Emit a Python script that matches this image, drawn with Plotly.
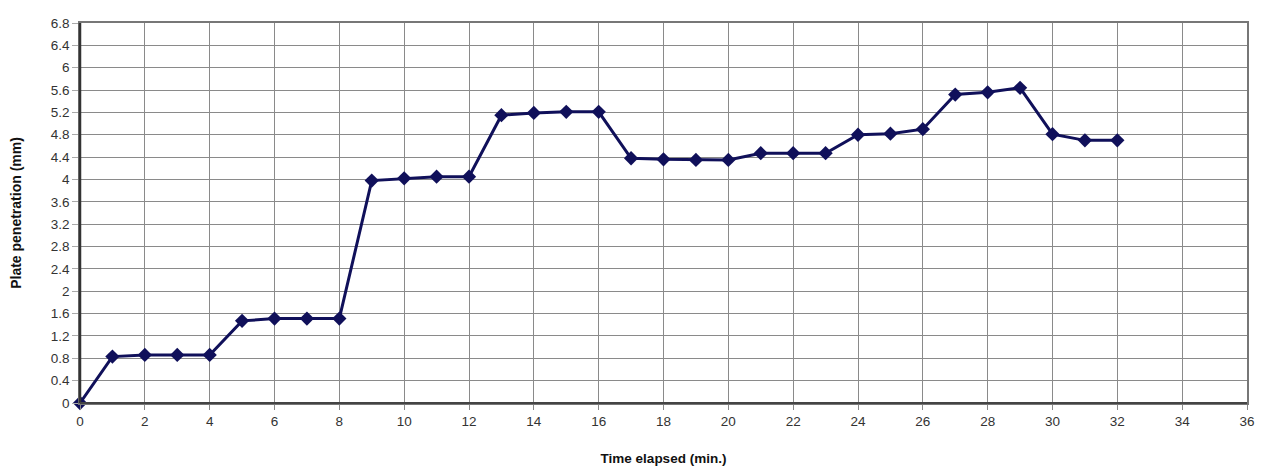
import plotly.graph_objects as go

time_min = list(range(0, 33))
penetration_mm = [0.0, 0.83, 0.86, 0.86, 0.86, 1.47, 1.51, 1.51, 1.51,
                  3.98, 4.02, 4.05, 4.05, 5.15, 5.19, 5.21, 5.21,
                  4.38, 4.36, 4.35, 4.35, 4.47, 4.47, 4.47,
                  4.80, 4.82, 4.90, 5.52, 5.56, 5.64, 4.81, 4.70, 4.70]

x_ticks = list(range(0, 37, 2))
y_ticks = [round(i * 0.4, 1) for i in range(0, 18)]
y_tick_text = [("%g" % v) for v in y_ticks]

fig = go.Figure()
fig.add_trace(go.Scatter(
    x=time_min, y=penetration_mm, mode="lines+markers",
    line=dict(color="#10105a", width=3),
    marker=dict(symbol="diamond", size=11, color="#10105a"),
    cliponaxis=False, showlegend=False,
))

font_family = "Liberation Sans, Arial, sans-serif"
# page body has an 8px margin, so the figure is sized/margined to compensate
fig.update_layout(
    width=1259, height=467,
    margin=dict(l=72, r=20, t=15, b=72),
    paper_bgcolor="white", plot_bgcolor="white",
    font=dict(family=font_family, size=13, color="#333333"),
)
fig.update_xaxes(
    range=[0, 36], tickvals=x_ticks, ticktext=[str(v) for v in x_ticks],
    automargin=False,
    showgrid=True, gridcolor="#8a8a8a", gridwidth=1,
    showline=True, linecolor="#777777", linewidth=1.5, mirror=True,
    ticks="outside", ticklen=5, tickcolor="#888888",
    zeroline=False,
    tickfont=dict(size=13.5, color="#333333"),
    title=dict(text="<b>Time elapsed (min.)</b>", font=dict(size=13.5, color="#111111"), standoff=26),
)
fig.update_yaxes(
    range=[0, 6.8], tickvals=y_ticks, ticktext=y_tick_text,
    automargin=False,
    showgrid=True, gridcolor="#8a8a8a", gridwidth=1,
    showline=True, linecolor="#777777", linewidth=1.5, mirror=True,
    ticks="outside", ticklen=6, tickcolor="#aaaaaa",
    zeroline=False,
    tickfont=dict(size=13.5, color="#333333"),
    title=dict(text="<b>Plate penetration (mm)</b>", font=dict(size=14, color="#111111"), standoff=30),
)
# darker left and bottom axis lines
fig.add_shape(type="line", xref="paper", yref="paper", x0=0, x1=0, y0=0, y1=1,
              line=dict(color="#333333", width=2.5), layer="above")
fig.add_shape(type="line", xref="paper", yref="paper", x0=0, x1=1, y0=0, y1=0,
              line=dict(color="#444444", width=2), layer="above")
fig.write_html("out.html")
